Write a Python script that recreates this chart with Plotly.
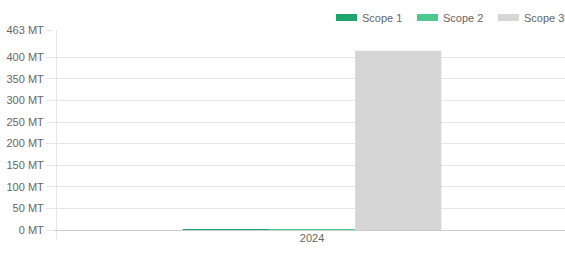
import plotly.graph_objects as go

categories = ["2024"]
series_names = ["Scope 1", "Scope 2", "Scope 3"]
scope1 = [2]
scope2 = [2]
scope3 = [415]
colors = ["#1ba56b", "#4cc98f", "#d6d6d6"]
y_max = 463
tick_vals = [0, 50, 100, 150, 200, 250, 300, 350, 400, 463]
tick_text = [f"{v} MT" for v in tick_vals]

FONT = "Liberation Sans, Arial, Helvetica, sans-serif"
fig = go.Figure()
for name, vals, col in zip(series_names, [scope1, scope2, scope3], colors):
    fig.add_trace(go.Bar(x=categories, y=vals, name=name, marker=dict(color=col, line=dict(width=0)),
                         showlegend=False, legendgroup=name))
    fig.add_trace(go.Scatter(x=[None], y=[None], mode="lines", name=name, legendgroup=name,
                             line=dict(color=col, width=7, dash="0px,9px,21px,200px"),
                             hoverinfo="skip"))

fig.update_layout(
    width=565, height=253,
    margin=dict(l=54, r=0, t=30, b=23, pad=0, autoexpand=False),
    paper_bgcolor="white", plot_bgcolor="white",
    barmode="group", bargap=0.494, bargroupgap=0,
    font=dict(family=FONT, size=11, color="#666666"),
    showlegend=True,
    legend=dict(orientation="h", xref="container", yref="container",
                xanchor="right", x=1.0, yanchor="top", y=0.988,
                entrywidth=36,
                font=dict(family=FONT, size=11, color="#666666"),
                itemwidth=30, bgcolor="rgba(0,0,0,0)", tracegroupgap=0),
    xaxis=dict(type="category", tickson="boundaries", ticks="outside", ticklen=8,
               range=[-0.505, 0.495],
               tickcolor="#e6e6e6", showgrid=True, gridcolor="#e6e6e6", gridwidth=1,
               showline=False, zeroline=False, automargin=False,
               tickfont=dict(size=11, color="#666666")),
    yaxis=dict(range=[0, y_max], tickmode="array", tickvals=tick_vals, ticktext=tick_text,
               ticks="outside", ticklen=7, tickcolor="#e6e6e6", showgrid=True,
               gridcolor="#e6e6e6", gridwidth=1, zeroline=True, zerolinecolor="#cccccc",
               zerolinewidth=1, showline=False, automargin=False,
               tickfont=dict(size=11, color="#666666")),
)
fig.write_html("out.html", config={"displayModeBar": False},
               post_script="document.body.style.margin='0';document.body.style.overflow='hidden';")
